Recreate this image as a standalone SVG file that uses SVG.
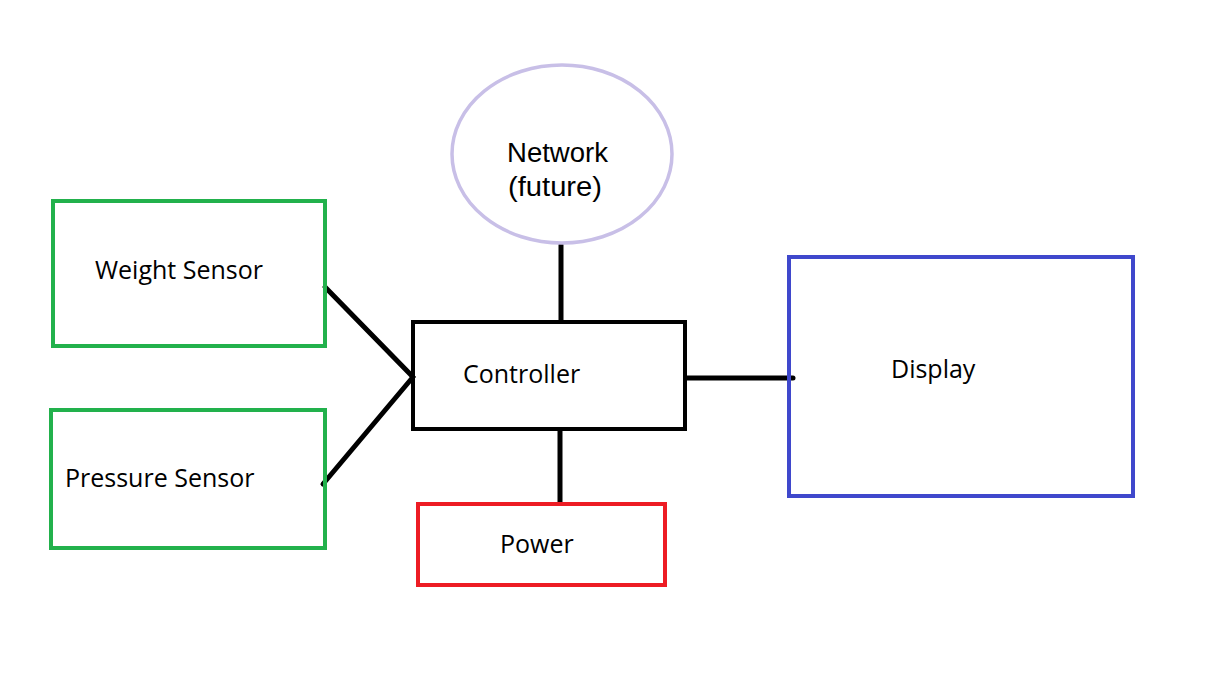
<svg xmlns="http://www.w3.org/2000/svg" width="1214" height="699" viewBox="0 0 1214 699">
<style>
.box{fill:none;stroke-width:4}
.lbl{font-family:"Open Sans","Noto Sans",sans-serif;font-size:25px;fill:#000}
.lbl2{font-family:"Liberation Sans",Arial,sans-serif;font-size:27px;fill:#000}
.conn{stroke:#000;stroke-width:5;fill:none;stroke-linecap:round}
</style>
<rect width="1214" height="699" fill="#fff"/>
<g id="connectors">
<line class="conn" x1="561" y1="245" x2="561" y2="320"/>
<line class="conn" x1="325" y1="287" x2="413" y2="377"/>
<line class="conn" x1="323" y1="484" x2="413" y2="377"/>
<line class="conn" x1="687" y1="378" x2="793" y2="378"/>
<line class="conn" x1="560" y1="431" x2="560" y2="503"/>
</g>
<g id="weight-sensor">
<rect class="box" x="53" y="201" width="272" height="145" stroke="#22b14c"/>
<text class="lbl" x="95" y="279">Weight Sensor</text>
</g>
<g id="pressure-sensor">
<rect class="box" x="51" y="410" width="274" height="138" stroke="#22b14c"/>
<text class="lbl" x="65" y="487">Pressure Sensor</text>
</g>
<g id="network">
<ellipse cx="562" cy="154" rx="110" ry="89" fill="none" stroke="#c8bfe7" stroke-width="3.5"/>
<text class="lbl2" x="507" y="162" textLength="101" lengthAdjust="spacingAndGlyphs">Network</text>
<text class="lbl2" x="508" y="196" textLength="94" lengthAdjust="spacingAndGlyphs">(future)</text>
</g>
<g id="controller">
<rect class="box" x="413" y="322" width="272" height="107" stroke="#000"/>
<text class="lbl" x="463" y="383">Controller</text>
</g>
<g id="power">
<rect class="box" x="418" y="504" width="247" height="81" stroke="#ed1c24"/>
<text class="lbl" x="500" y="553">Power</text>
</g>
<g id="display">
<rect class="box" x="789" y="257" width="344" height="239" stroke="#3f48cc"/>
<text class="lbl" x="891" y="378">Display</text>
</g>
</svg>
